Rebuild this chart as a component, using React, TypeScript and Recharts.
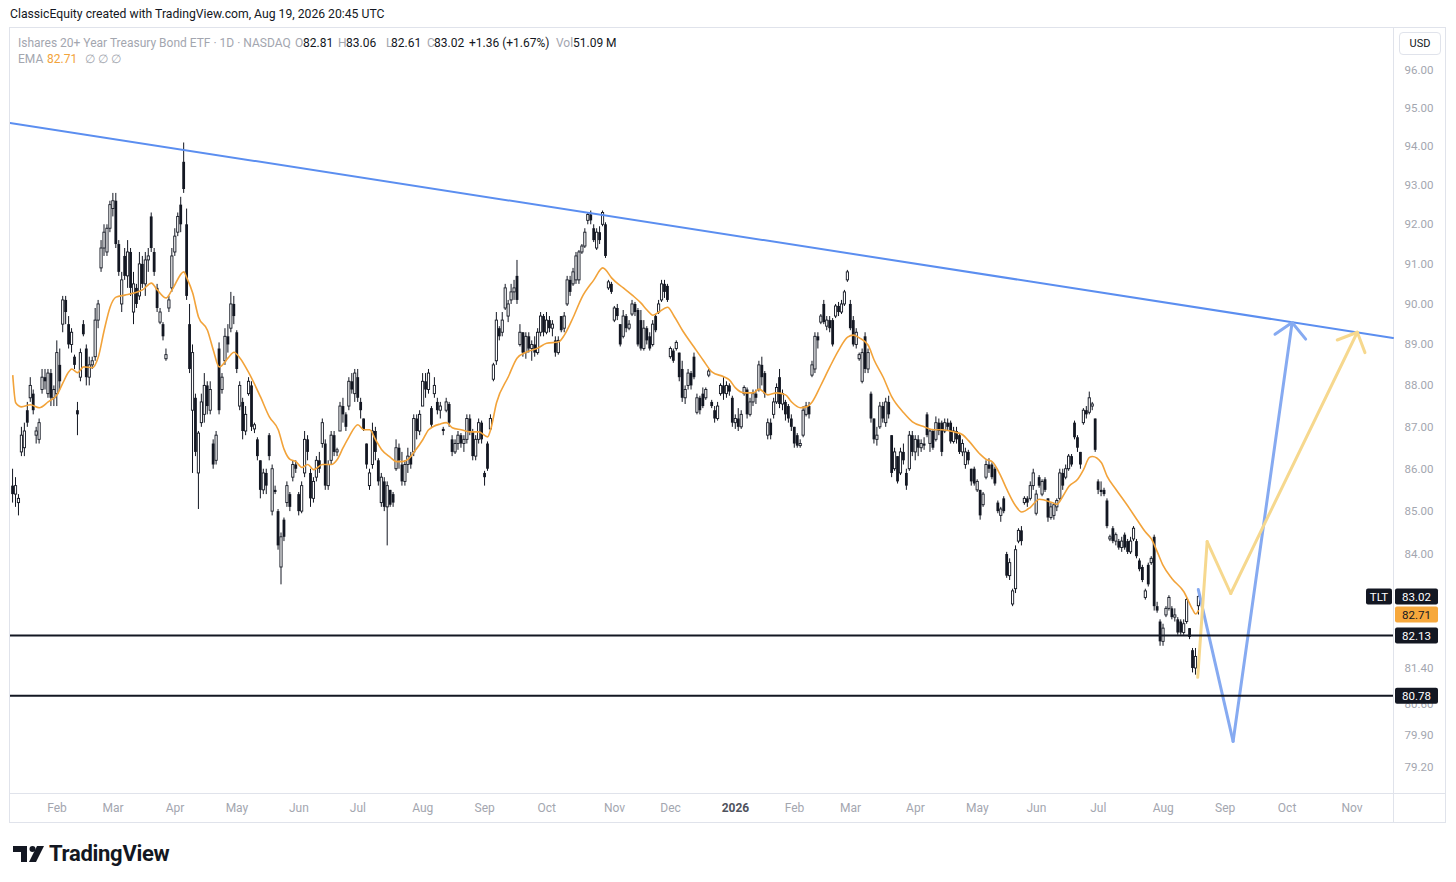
import { ComposedChart, Bar, Line, XAxis, YAxis, ReferenceLine } from 'recharts'

const FONT = "Roboto, 'Liberation Sans', Arial, sans-serif"
const GRAY = '#a3a6af'
const INK = '#131722'
const EMA_COLOR = '#f2a33a'

// first candle on the left edge, counted in trading days from Feb 3 2025
const FIRST_BAR = -15

// daily candles [open, high, low, close]
const ohlc: [number, number, number, number][] = [
  [85.6, 86.0, 85.2, 85.4], [85.4, 85.8, 85.1, 85.6], [85.2, 85.4, 84.9, 85.3], [86.4, 87.0, 86.3, 86.8], [86.5, 87.1, 86.3, 86.9],
  [87.4, 87.6, 87.0, 87.1], [87.7, 88.2, 87.6, 88.0], [87.8, 87.9, 87.3, 87.4], [86.8, 87.0, 86.6, 86.9], [86.7, 87.2, 86.6, 87.1],
  [87.9, 88.4, 87.8, 88.2], [88.2, 88.4, 87.9, 88.1], [87.8, 88.4, 87.7, 88.3], [88.3, 88.4, 87.5, 87.7], [87.7, 88.0, 87.5, 87.9],
  // Feb 2025
  [87.8, 89.1, 87.5, 88.8], [88.5, 88.9, 87.9, 88.1], [89.5, 90.2, 89.3, 90.1], [90.1, 90.2, 89.5, 89.8], [89.5, 89.7, 88.9, 89.0],
  [89.0, 89.4, 88.8, 89.3], [88.7, 88.75, 88.4, 88.5], [87.4, 87.6, 86.8, 87.3], [88.2, 88.9, 88.1, 88.8], [89.5, 89.6, 89.2, 89.25],
  [88.9, 89.0, 88.0, 88.2], [88.2, 88.7, 88.0, 88.5], [88.5, 88.7, 88.4, 88.6], [88.7, 89.9, 88.6, 89.6], [89.6, 90.1, 89.4, 90.0],
  [90.9, 91.6, 90.8, 91.4], [91.4, 92.0, 91.2, 91.8], [91.3, 92.0, 91.2, 91.9], [91.9, 92.6, 91.8, 92.5], [92.4, 92.8, 92.2, 92.6],
  [92.6, 92.8, 91.4, 91.5], [91.5, 91.6, 90.7, 90.8], [90.0, 90.8, 89.8, 90.6], [91.2, 91.4, 90.6, 90.7], [90.7, 91.6, 90.4, 91.3],
  [91.3, 91.4, 90.2, 90.4], [89.8, 90.8, 89.5, 90.5], [90.4, 90.5, 89.9, 90.0], [90.2, 91.3, 90.1, 91.0], [91.0, 91.2, 90.4, 90.5],
  [90.5, 91.3, 90.2, 91.1], [91.1, 91.4, 90.8, 91.2], [92.2, 92.3, 91.3, 91.4], [91.3, 91.4, 90.7, 90.8], [90.4, 90.5, 89.8, 89.9],
  [89.55, 89.9, 89.5, 89.8], [89.5, 89.55, 89.1, 89.2], [88.65, 88.9, 88.6, 88.75], [89.9, 90.2, 89.8, 90.1], [90.4, 91.4, 90.3, 91.2],
  // Apr 2025
  [91.3, 91.9, 91.2, 91.7], [91.8, 92.3, 91.7, 92.2], [92.5, 92.7, 91.8, 92.0], [93.6, 94.1, 92.8, 92.9], [92.0, 92.4, 90.1, 90.2],
  [89.5, 90.0, 88.3, 88.4], [87.4, 89.0, 85.9, 88.8], [87.7, 87.8, 86.3, 86.4], [85.9, 86.9, 85.05, 86.85], [87.1, 87.8, 87.0, 87.6],
  [87.3, 88.3, 87.1, 88.0], [88.0, 88.1, 87.3, 87.5], [87.4, 88.1, 87.3, 87.9], [86.6, 86.7, 86.0, 86.1], [86.2, 86.9, 86.1, 86.8],
  [88.9, 89.05, 87.3, 87.4], [87.9, 88.3, 87.8, 88.2], [88.6, 89.4, 88.5, 89.2], [89.2, 89.5, 88.8, 89.0], [89.4, 90.3, 89.3, 90.0],
  [90.0, 90.2, 89.5, 89.7],
  // May 2025
  [89.3, 89.35, 88.3, 88.4], [87.5, 88.1, 87.4, 88.0], [87.6, 87.7, 86.7, 86.9], [86.9, 87.5, 86.8, 87.3], [87.8, 88.2, 87.75, 88.1],
  [88.0, 88.1, 86.9, 87.0], [86.95, 87.1, 86.85, 87.05], [86.7, 86.75, 86.2, 86.3], [86.2, 86.2, 85.3, 85.5], [85.5, 86.0, 85.4, 85.9],
  [85.9, 86.0, 85.4, 85.6], [86.8, 86.85, 86.2, 86.3], [85.0, 86.1, 84.9, 86.0], [85.5, 85.6, 85.4, 85.45], [85.0, 85.05, 84.1, 84.2],
  [83.7, 84.5, 83.3, 84.4], [84.8, 84.85, 84.3, 84.4], [85.2, 85.7, 85.1, 85.6], [85.4, 85.45, 85.0, 85.1], [85.8, 86.2, 85.7, 86.1],
  [86.1, 86.2, 85.9, 86.0],
  // Jun 2025
  [85.4, 85.45, 84.9, 85.0], [85.0, 85.7, 84.95, 85.6], [85.9, 86.9, 85.8, 86.7], [86.7, 86.8, 86.2, 86.4], [85.9, 86.0, 85.1, 85.3],
  [85.3, 85.8, 85.2, 85.7], [85.8, 86.3, 85.7, 86.2], [86.2, 86.4, 85.9, 86.0], [86.6, 87.2, 86.5, 87.1], [86.6, 86.7, 85.5, 85.6],
  [85.6, 86.2, 85.5, 86.1], [86.2, 86.9, 86.1, 86.8], [86.8, 86.9, 86.3, 86.4], [86.4, 86.5, 86.3, 86.45], [86.9, 87.6, 86.9, 87.5],
  [87.5, 87.7, 87.1, 87.3], [87.3, 87.35, 86.9, 87.0], [87.5, 88.2, 87.4, 88.1], [88.1, 88.3, 87.8, 87.9], [87.8, 88.4, 87.6, 88.3],
  // Jul 2025
  [88.2, 88.4, 87.6, 87.7], [87.6, 87.7, 87.2, 87.4], [87.2, 87.2, 86.9, 86.95], [86.6, 86.6, 86.0, 86.1], [85.6, 86.0, 85.5, 85.9],
  [86.1, 87.1, 86.0, 86.9], [86.9, 87.0, 86.2, 86.4], [86.2, 86.25, 85.6, 85.7], [85.2, 85.9, 85.1, 85.8], [85.7, 85.8, 85.0, 85.1],
  [85.1, 85.7, 84.2, 85.6], [85.5, 85.5, 85.1, 85.15], [85.4, 85.45, 85.1, 85.2], [86.0, 86.7, 85.95, 86.5], [86.5, 86.6, 86.0, 86.2],
  [86.1, 86.4, 85.6, 85.7], [85.7, 86.2, 85.6, 86.1], [86.1, 86.5, 85.9, 86.3], [86.3, 86.4, 86.0, 86.1], [86.4, 87.3, 86.3, 87.2],
  [87.2, 87.3, 86.7, 86.9], [86.9, 87.4, 86.8, 87.3],
  // Aug 2025
  [87.5, 88.3, 87.5, 88.1], [88.1, 88.3, 87.7, 87.9], [87.9, 88.4, 87.8, 88.3], [87.45, 87.5, 87.0, 87.05], [87.8, 88.2, 87.7, 88.0],
  [87.6, 87.7, 87.3, 87.4], [87.4, 87.6, 87.2, 87.5], [86.95, 87.0, 86.8, 86.9], [87.4, 87.7, 87.35, 87.6], [87.55, 87.6, 87.0, 87.1],
  [86.7, 86.8, 86.3, 86.4], [86.4, 86.7, 86.35, 86.6], [86.6, 86.9, 86.45, 86.8], [86.8, 86.85, 86.5, 86.6], [86.6, 86.8, 86.4, 86.7],
  [86.7, 87.3, 86.6, 87.2], [87.2, 87.3, 86.8, 86.9], [86.9, 86.95, 86.2, 86.3], [86.3, 86.8, 86.2, 86.7], [86.7, 87.2, 86.6, 87.1],
  [87.1, 87.15, 86.6, 86.7],
  // Sep 2025
  [85.9, 85.95, 85.6, 85.8], [86.6, 86.65, 85.95, 86.0], [86.95, 87.3, 86.9, 87.2], [88.15, 88.55, 88.1, 88.5], [88.6, 89.8, 88.5, 89.6],
  [89.4, 89.45, 89.1, 89.2], [89.3, 89.8, 89.2, 89.6], [89.9, 90.5, 89.85, 90.4], [89.7, 90.1, 89.55, 90.0], [90.1, 90.5, 90.0, 90.3],
  [90.3, 90.6, 90.1, 90.4], [90.7, 91.1, 90.0, 90.1], [89.0, 89.5, 88.95, 89.3], [89.3, 89.3, 88.7, 88.8], [88.8, 89.3, 88.65, 89.2],
  [89.2, 89.3, 88.8, 88.9], [88.9, 89.1, 88.6, 89.0], [89.0, 89.2, 88.7, 88.8], [88.8, 89.4, 88.75, 89.3], [89.3, 89.8, 89.2, 89.7],
  [89.7, 89.75, 89.2, 89.3],
  // Oct 2025
  [89.3, 89.8, 89.25, 89.6], [89.6, 89.7, 89.3, 89.4], [89.4, 89.6, 89.2, 89.5], [89.1, 89.2, 88.7, 88.8], [88.8, 89.2, 88.75, 89.1],
  [89.7, 89.7, 89.3, 89.35], [89.4, 89.8, 89.3, 89.7], [90.0, 90.7, 89.95, 90.6], [90.6, 90.7, 90.2, 90.3], [90.5, 90.9, 90.45, 90.8],
  [90.6, 91.3, 90.5, 91.2], [90.6, 91.35, 90.5, 91.3], [91.3, 91.5, 91.25, 91.45], [91.45, 91.9, 91.4, 91.8], [92.1, 92.3, 92.0, 92.25],
  [92.25, 92.35, 92.0, 92.1], [91.9, 92.0, 91.55, 91.6], [91.4, 91.9, 91.35, 91.8], [91.8, 91.95, 91.5, 91.6], [92.0, 92.35, 91.95, 92.3],
  [92.0, 92.05, 91.15, 91.2], [90.4, 90.6, 90.35, 90.55], [90.5, 90.55, 90.25, 90.3],
  // Nov 2025
  [89.6, 89.95, 89.55, 89.9], [89.9, 90.0, 89.6, 89.7], [89.5, 89.5, 88.95, 89.0], [89.2, 89.85, 89.15, 89.7], [89.7, 89.75, 89.3, 89.4],
  [89.4, 89.6, 89.35, 89.5], [89.75, 90.1, 89.7, 90.0], [90.0, 90.05, 89.7, 89.8], [89.85, 89.9, 88.95, 89.0], [89.6, 89.85, 88.85, 88.9],
  [88.9, 89.6, 88.85, 89.4], [89.4, 89.45, 89.0, 89.1], [89.2, 89.3, 88.85, 88.9], [89.0, 89.6, 88.95, 89.5], [89.7, 89.75, 89.3, 89.35],
  [89.8, 90.1, 89.75, 90.0], [90.1, 90.6, 90.05, 90.5], [90.5, 90.6, 90.15, 90.3], [90.45, 90.5, 90.05, 90.1],
  // Dec 2025
  [88.7, 88.95, 88.65, 88.9], [88.85, 88.9, 88.55, 88.6], [88.9, 89.1, 88.85, 89.05], [88.8, 88.8, 88.1, 88.2], [88.4, 88.6, 87.6, 87.7],
  [87.7, 88.0, 87.55, 87.9], [88.0, 88.4, 87.9, 88.3], [88.3, 88.35, 87.9, 88.0], [88.7, 88.8, 88.15, 88.2], [87.35, 87.8, 87.3, 87.7],
  [87.7, 87.75, 87.3, 87.4], [87.8, 87.95, 87.45, 87.5], [87.7, 87.95, 87.65, 87.9], [88.25, 88.4, 88.2, 88.35], [87.6, 87.65, 87.45, 87.5],
  [87.4, 87.5, 87.1, 87.2], [87.2, 87.6, 87.15, 87.5], [87.8, 88.05, 87.75, 88.0], [88.0, 88.2, 87.65, 87.8], [87.8, 88.1, 87.7, 88.0],
  [88.0, 88.05, 87.75, 87.85], [87.7, 87.75, 87.0, 87.1],
  // Jan 2026
  [87.1, 87.3, 86.95, 87.2], [87.2, 87.45, 86.9, 87.0], [87.0, 87.4, 86.95, 87.3], [87.8, 88.0, 87.75, 87.95], [87.9, 87.95, 87.2, 87.3],
  [87.3, 87.7, 87.25, 87.6], [87.6, 87.9, 87.5, 87.8], [87.8, 87.9, 87.55, 87.7], [87.9, 88.6, 87.85, 88.5], [88.5, 88.7, 88.0, 88.2],
  [88.3, 88.35, 87.7, 87.8], [86.8, 87.2, 86.7, 87.1], [87.1, 87.2, 86.7, 86.8], [87.3, 87.7, 87.2, 87.6], [87.6, 88.05, 87.55, 87.95],
  [88.2, 88.4, 87.45, 87.55], [87.55, 87.9, 87.4, 87.8], [87.6, 87.65, 87.15, 87.3], [87.5, 87.55, 87.1, 87.2], [87.2, 87.3, 86.9, 87.0],
  // Feb 2026
  [87.0, 87.0, 86.5, 86.6], [86.8, 86.85, 86.5, 86.55], [86.55, 86.7, 86.5, 86.6], [86.8, 87.5, 86.75, 87.4], [87.3, 87.6, 87.25, 87.5],
  [87.5, 87.6, 87.2, 87.3], [88.25, 88.6, 88.2, 88.5], [88.4, 89.3, 88.3, 89.2], [89.2, 89.3, 88.9, 89.1], [89.55, 89.75, 89.5, 89.7],
  [90.0, 90.1, 89.5, 89.55], [89.45, 89.7, 89.35, 89.6], [89.6, 89.7, 89.3, 89.4], [89.6, 89.65, 88.95, 89.0], [89.7, 90.0, 89.65, 89.95],
  [89.95, 90.05, 89.7, 89.8], [89.8, 90.1, 89.75, 90.0], [90.0, 90.35, 89.95, 90.3], [90.6, 90.85, 90.55, 90.8],
  // Mar 2026
  [90.0, 90.1, 89.35, 89.4], [89.6, 89.7, 88.95, 89.0], [89.0, 89.4, 88.9, 89.3], [88.65, 88.8, 88.6, 88.75], [88.1, 88.9, 88.05, 88.8],
  [89.2, 89.3, 88.3, 88.4], [88.4, 88.9, 88.3, 88.8], [87.8, 87.85, 87.1, 87.2], [87.2, 87.2, 86.6, 86.7], [86.7, 87.0, 86.55, 86.8],
  [87.0, 87.6, 86.95, 87.5], [87.5, 87.6, 87.1, 87.2], [87.1, 87.7, 87.0, 87.6], [87.6, 87.75, 87.2, 87.3], [86.8, 86.8, 85.8, 85.9],
  [86.0, 86.5, 85.95, 86.4], [86.3, 86.3, 85.65, 85.7], [85.9, 86.5, 85.85, 86.4], [86.4, 86.6, 86.1, 86.2], [85.9, 86.0, 85.5, 85.6],
  [86.0, 86.9, 85.95, 86.8], [86.8, 86.9, 86.3, 86.4],
  // Apr 2026
  [86.4, 86.8, 86.2, 86.7], [86.7, 86.8, 86.3, 86.5], [86.5, 86.7, 86.4, 86.6], [86.6, 86.75, 86.45, 86.55], [87.3, 87.35, 86.75, 86.8],
  [86.6, 86.95, 86.4, 86.9], [86.9, 86.95, 86.45, 86.5], [86.7, 87.25, 86.65, 87.1], [87.1, 87.2, 86.8, 86.9], [87.1, 87.15, 86.3, 86.4],
  [86.9, 87.2, 86.85, 87.1], [87.1, 87.2, 86.9, 87.0], [87.1, 87.15, 86.6, 86.65], [86.65, 87.0, 86.6, 86.9], [86.9, 87.0, 86.6, 86.7],
  [86.8, 86.85, 86.35, 86.4], [86.4, 86.7, 86.3, 86.6], [86.1, 86.5, 86.0, 86.4], [86.4, 86.45, 86.1, 86.2], [86.0, 86.0, 85.6, 85.7],
  [86.0, 86.05, 85.6, 85.65],
  // May 2026
  [85.5, 85.75, 85.45, 85.7], [85.5, 85.5, 84.8, 84.9], [85.15, 85.45, 85.1, 85.4], [85.8, 86.2, 85.75, 86.1], [86.1, 86.25, 85.9, 86.0],
  [86.1, 86.15, 85.75, 85.8], [86.0, 86.05, 85.6, 85.65], [85.2, 85.25, 84.95, 85.0], [84.9, 85.1, 84.75, 85.05], [85.3, 85.35, 84.95, 85.0],
  [84.0, 84.05, 83.45, 83.5], [83.5, 83.9, 83.4, 83.8], [82.85, 83.2, 82.8, 83.15], [83.2, 84.2, 83.1, 84.1], [84.3, 84.6, 84.25, 84.55],
  [84.55, 84.65, 84.2, 84.3], [85.2, 85.35, 85.15, 85.3], [85.3, 85.35, 85.1, 85.2], [85.3, 85.7, 85.25, 85.6], [85.6, 86.0, 85.5, 85.9],
  // Jun 2026
  [84.95, 85.5, 84.9, 85.4], [85.8, 85.85, 85.55, 85.6], [85.4, 85.75, 85.35, 85.7], [85.75, 85.8, 85.45, 85.5], [85.3, 85.3, 84.75, 84.85],
  [84.85, 85.2, 84.8, 85.1], [84.9, 85.2, 84.8, 85.15], [85.1, 85.3, 85.0, 85.25], [85.3, 86.0, 85.25, 85.9], [85.9, 86.0, 85.5, 85.6],
  [85.8, 86.1, 85.75, 86.0], [86.0, 86.35, 85.95, 86.3], [86.3, 86.35, 86.05, 86.1], [87.1, 87.15, 86.7, 86.75], [86.75, 86.8, 86.4, 86.5],
  [86.4, 86.4, 86.0, 86.1], [87.1, 87.45, 87.05, 87.4], [87.4, 87.5, 87.2, 87.3], [87.35, 87.85, 87.3, 87.7], [87.5, 87.6, 87.4, 87.55],
  [87.2, 87.2, 86.4, 86.45],
  // Jul 2026
  [85.7, 85.75, 85.4, 85.5], [85.5, 85.7, 85.35, 85.45], [85.5, 85.55, 85.35, 85.4], [85.25, 85.3, 84.6, 84.65], [84.35, 84.45, 84.3, 84.4],
  [84.6, 84.65, 84.25, 84.3], [84.3, 84.5, 84.2, 84.45], [84.3, 84.35, 84.1, 84.15], [84.15, 84.4, 84.05, 84.3], [84.45, 84.5, 84.1, 84.15],
  [84.3, 84.35, 84.0, 84.05], [84.05, 84.4, 84.0, 84.3], [84.35, 84.65, 84.3, 84.6], [84.3, 84.35, 83.9, 83.95], [83.85, 83.9, 83.6, 83.65],
  [83.7, 83.75, 83.35, 83.4], [83.0, 83.2, 82.95, 83.15], [83.75, 83.8, 83.25, 83.3], [83.8, 83.95, 83.75, 83.9], [84.4, 84.45, 82.7, 82.8],
  [82.8, 82.9, 82.65, 82.7], [82.45, 82.5, 81.9, 82.0],
  // Aug 2026
  [82.0, 82.4, 81.9, 82.3], [82.6, 82.8, 82.55, 82.75], [82.75, 83.05, 82.7, 83.0], [82.75, 82.8, 82.5, 82.55], [82.55, 82.75, 82.45, 82.6],
  [82.5, 82.55, 82.15, 82.2], [82.45, 82.5, 82.15, 82.2], [82.2, 82.5, 82.15, 82.4], [82.45, 83.0, 82.4, 82.95], [82.3, 82.3, 82.05, 82.1],
  [81.8, 81.85, 81.3, 81.4], [81.4, 81.85, 81.25, 81.66], [82.81, 83.06, 82.61, 83.02],
]

// EMA read at sample bars [bar, value]
const emaPoints: [number, number][] = [
  [-15, 88.25], [-14, 87.58], [-12, 87.48], [-9, 87.53], [-6, 87.46], [-3, 87.6], [0, 87.77], [2, 88.06], [4, 88.33], [5, 88.4],
  [7, 88.31], [9, 88.45], [12, 88.43], [14, 88.69], [16, 89.35], [18, 89.92], [20, 90.17], [23, 90.22], [26, 90.27], [29, 90.35],
  [32, 90.52], [34, 90.35], [37, 90.15], [39, 90.35], [43, 90.8], [44, 90.65], [46, 90.27], [48, 89.67], [51, 89.35], [53, 88.86],
  [55, 88.45], [58, 88.67], [60, 88.81], [62, 88.67], [65, 88.31], [69, 87.72], [72, 87.24], [75, 86.93], [77, 86.46], [79, 86.22],
  [81, 86.17], [83, 86.03], [85, 86.1], [87, 85.98], [90, 86.1], [93, 86.1], [95, 86.22], [97, 86.5], [99, 86.76], [102, 87.05],
  [104, 86.93], [106, 86.93], [108, 86.69], [110, 86.46], [113, 86.27], [115, 86.17], [117, 86.17], [119, 86.22], [121, 86.39], [124, 86.69],
  [126, 86.93], [130, 87.07], [132, 87.1], [134, 86.98], [137, 86.93], [140, 86.88], [143, 86.88], [146, 86.76], [147, 86.93], [149, 87.58],
  [153, 88.21], [156, 88.67], [159, 88.81], [163, 88.91], [166, 89.03], [170, 89.06], [172, 89.23], [175, 89.67], [178, 90.17], [182, 90.6],
  [185, 90.9], [186, 90.85], [188, 90.65], [192, 90.4], [195, 90.22], [198, 90.02], [200, 89.85], [202, 89.72], [204, 89.8], [207, 89.92],
  [209, 89.72], [212, 89.35], [216, 88.93], [219, 88.62], [222, 88.33], [226, 88.21], [228, 88.13], [230, 87.94], [233, 87.82], [236, 87.82],
  [238, 87.91], [241, 87.77], [244, 87.82], [247, 87.77], [249, 87.6], [252, 87.46], [254, 87.48], [256, 87.6], [259, 88.01], [262, 88.45],
  [265, 88.86], [268, 89.18], [270, 89.23], [272, 89.16], [275, 88.98], [277, 88.62], [280, 88.21], [283, 87.72], [287, 87.34], [290, 87.12],
  [294, 87.0], [297, 86.93], [300, 86.93], [304, 86.88], [307, 86.81], [309, 86.67], [313, 86.34], [315, 86.22], [317, 86.17], [320, 85.82],
  [322, 85.51], [325, 85.12], [327, 84.98], [330, 85.09], [333, 85.28], [337, 85.21], [339, 85.16], [341, 85.35], [343, 85.58], [346, 85.75],
  [348, 85.98], [350, 86.27], [351, 86.29], [354, 86.15], [356, 85.82], [359, 85.51], [363, 85.12], [366, 84.81], [369, 84.51], [371, 84.35],
  [373, 84.05], [375, 83.73], [378, 83.43], [382, 83.13], [385, 82.72], [386, 82.62], [387, 82.71],
]

const monthTicks = [0, 19, 40, 61, 82, 102, 124, 145, 166, 189, 208, 230, 250, 269, 291, 312, 332, 353, 375, 396, 417, 439]
const monthLabels = ['Feb', 'Mar', 'Apr', 'May', 'Jun', 'Jul', 'Aug', 'Sep', 'Oct', 'Nov', 'Dec', '2026',
  'Feb', 'Mar', 'Apr', 'May', 'Jun', 'Jul', 'Aug', 'Sep', 'Oct', 'Nov']
// 83.00 and 82.20 sit under the price tags, 80.60 peeks out below the 80.78 tag
const priceTicks = [96, 95, 94, 93, 92, 91, 90, 89, 88, 87, 86, 85, 84, 83, 82.2, 81.4, 80.6, 79.9, 79.2]

const X_DOMAIN: [number, number] = [-15.93, 452.9]
const Y_DOMAIN: [number, number] = [78.64, 97.12]

const lastClose = 83.02
const lastEma = 82.71
const levels = [82.13, 80.78]

// drawings: [bar, price]
const trendLine: [number, number][] = [[-15.93, 94.61], [452.9, 89.16]]
const blueArrow: [number, number][] = [[386.9, 83.18], [398.7, 79.77], [418.7, 89.54]]
const blueHead: [number, number][] = [[412.9, 89.25], [418.7, 89.54], [423.3, 89.13]]
const yellowArrow: [number, number][] = [[386.7, 81.19], [389.9, 84.29], [397.9, 83.09], [440.8, 89.3]]
const yellowHead: [number, number][] = [[434.0, 89.11], [440.8, 89.3], [443.4, 88.8]]

const emaByBar = new Map(emaPoints)
const rows = ohlc.map(([o, h, l, c], k) => {
  const i = FIRST_BAR + k
  return { i, o, h, l, c, range: [l, h], ema: emaByBar.get(i) ?? null }
})

const CHART_W = 1435
const CHART_H = 794

function Candle(props: any) {
  const { x, y, width, height, payload } = props
  if (!payload || height == null) return null
  const { o, h, l, c } = payload
  const cx = x + width / 2
  const lnH = Math.log(h)
  const span = lnH - Math.log(l) || 1
  const toY = (v: number) => y + ((lnH - Math.log(v)) / span) * height
  const yo = toY(o)
  const yc = toY(c)
  const up = c >= o
  const top = Math.min(yo, yc)
  const bh = Math.max(Math.abs(yc - yo), 1)
  return (
    <g>
      <line x1={cx} x2={cx} y1={y} y2={y + height} stroke={INK} strokeWidth={1} />
      {up ? (
        <rect x={cx - 1.1} y={top} width={2.2} height={bh} fill="#fff" stroke={INK} strokeWidth={0.9} />
      ) : (
        <rect x={cx - 1.4} y={top} width={2.8} height={bh} fill={INK} />
      )}
    </g>
  )
}

function MonthTick({ x, payload }: any) {
  const label = monthLabels[monthTicks.indexOf(payload.value)]
  const isYear = label === '2026'
  return (
    <text x={x} y={784} textAnchor="middle" fontSize={12} fontFamily={FONT}
      fill={isYear ? '#50535e' : GRAY} fontWeight={isYear ? 700 : 400}>
      {label}
    </text>
  )
}

function PriceTick({ y, payload }: any) {
  return (
    <text x={1409} y={y + 4} textAnchor="middle" fontSize={11.5} fontFamily={FONT} fill={GRAY}>
      {payload.value.toFixed(2)}
    </text>
  )
}

function priceTag(text: string, bg: string, fg: string, dy = 0, ticker?: string) {
  return (p: any) => {
    const vb = p.viewBox
    if (!vb) return null
    const right = vb.x + vb.width
    const cy = vb.y + dy
    return (
      <g>
        {ticker && (
          <g>
            <rect x={right - 27} y={cy - 8} width={26} height={16} rx={2} fill={INK} />
            <text x={right - 14} y={cy + 4} textAnchor="middle" fontSize={11.5} fontFamily={FONT} fill="#fff">{ticker}</text>
          </g>
        )}
        <rect x={right + 2} y={cy - 8} width={43} height={16} rx={2} fill={bg} />
        <text x={right + 23.5} y={cy + 4} textAnchor="middle" fontSize={11.5} fontFamily={FONT} fill={fg}>{text}</text>
      </g>
    )
  }
}

function segments(points: [number, number][], color: string, width: number, prefix: string) {
  return points.slice(1).map((pt, k) => (
    <ReferenceLine
      key={`${prefix}-${k}`}
      segment={[{ x: points[k][0], y: points[k][1] }, { x: pt[0], y: pt[1] }]}
      stroke={color}
      strokeWidth={width}
      strokeLinecap="round"
      ifOverflow="visible"
    />
  ))
}

// same axes for both layers; the drawing layer hides its ticks
function axes(showTicks: boolean) {
  return [
    <XAxis
      key="x"
      dataKey="i"
      type="number"
      domain={X_DOMAIN}
      allowDataOverflow
      ticks={monthTicks}
      tick={showTicks ? <MonthTick /> : false}
      axisLine={false}
      tickLine={false}
      height={29}
      interval={0}
    />,
    <YAxis
      key="y"
      orientation="right"
      scale="log"
      domain={Y_DOMAIN}
      allowDataOverflow
      ticks={priceTicks}
      tick={showTicks ? <PriceTick /> : false}
      axisLine={false}
      tickLine={false}
      width={52}
      interval={0}
    />,
  ]
}

const legendParts = [
  { left: 18, text: 'Ishares 20+ Year Treasury Bond ETF · 1D · NASDAQ', color: GRAY },
  { left: 295, text: 'O', color: GRAY }, { left: 303, text: '82.81', color: INK },
  { left: 338, text: 'H', color: GRAY }, { left: 346, text: '83.06', color: INK },
  { left: 386, text: 'L', color: GRAY }, { left: 391, text: '82.61', color: INK },
  { left: 427, text: 'C', color: GRAY }, { left: 434, text: '83.02', color: INK },
  { left: 469, text: '+1.36 (+1.67%)', color: INK },
  { left: 556, text: 'Vol', color: GRAY }, { left: 573, text: '51.09 M', color: INK },
]
const emaLegend = [
  { left: 18, text: 'EMA', color: GRAY },
  { left: 47, text: '82.71', color: EMA_COLOR },
  { left: 85, text: '∅  ∅  ∅', color: GRAY },
]

export default function App() {
  return (
    <div style={{ position: 'absolute', left: 0, top: 0, width: 1456, height: 882, background: '#fff', fontFamily: FONT, overflow: 'hidden' }}>
      <div style={{ position: 'absolute', left: 10, top: 7, fontSize: 12.2, color: INK, whiteSpace: 'nowrap' }}>
        ClassicEquity created with TradingView.com, Aug 19, 2026 20:45 UTC
      </div>

      <div style={{ position: 'absolute', left: 9, top: 27, width: 1437, height: 796, border: '1px solid #e0e3eb', boxSizing: 'border-box' }} />
      <div style={{ position: 'absolute', left: 1393, top: 28, width: 1, height: 794, background: '#e0e3eb' }} />
      <div style={{ position: 'absolute', left: 10, top: 793, width: 1435, height: 1, background: '#e0e3eb' }} />

      {/* price layer: candles, EMA and the axis labels */}
      <div style={{ position: 'absolute', left: 10, top: 28 }}>
        <ComposedChart width={CHART_W} height={CHART_H} data={rows} margin={{ top: 0, right: 0, bottom: 0, left: 0 }}>
          {axes(true)}
          <Bar dataKey="range" shape={<Candle />} isAnimationActive={false} />
          <Line dataKey="ema" type="monotone" stroke={EMA_COLOR} strokeWidth={1.6} dot={false}
            activeDot={false} connectNulls isAnimationActive={false} />
        </ComposedChart>
      </div>

      {/* drawing layer on top: trend line, levels, projections and price tags */}
      <div style={{ position: 'absolute', left: 10, top: 28, pointerEvents: 'none' }}>
        <ComposedChart width={CHART_W} height={CHART_H} data={rows} margin={{ top: 0, right: 0, bottom: 0, left: 0 }}>
          {axes(false)}
          {segments(trendLine, '#5b8ef0', 2, 'trend')}
          {segments(blueArrow, '#86aaf1', 3, 'blue')}
          {segments(blueHead, '#86aaf1', 3, 'bluehead')}
          {segments(yellowArrow, '#f6d88e', 3, 'yellow')}
          {segments(yellowHead, '#f6d88e', 3, 'yellowhead')}
          {levels.map((v) => (
            <ReferenceLine key={v} y={v} stroke={INK} strokeWidth={2} ifOverflow="visible"
              label={priceTag(v.toFixed(2), INK, '#fff')} />
          ))}
          <ReferenceLine y={lastClose} stroke="none" ifOverflow="visible"
            label={priceTag(lastClose.toFixed(2), INK, '#fff', 0, 'TLT')} />
          <ReferenceLine y={lastEma} stroke="none" ifOverflow="visible"
            label={priceTag(lastEma.toFixed(2), '#f7a83c', INK, 4.5)} />
        </ComposedChart>
      </div>

      {legendParts.map((p, k) => (
        <div key={k} style={{ position: 'absolute', left: p.left, top: 36, fontSize: 12, color: p.color, whiteSpace: 'nowrap' }}>{p.text}</div>
      ))}
      {emaLegend.map((p, k) => (
        <div key={k} style={{ position: 'absolute', left: p.left, top: 52, fontSize: 12, color: p.color, whiteSpace: 'nowrap' }}>{p.text}</div>
      ))}

      <div style={{ position: 'absolute', left: 1399, top: 32, width: 42, height: 23, border: '1px solid #e0e3eb', borderRadius: 4,
        boxSizing: 'border-box', fontSize: 11, color: INK, display: 'flex', alignItems: 'center', justifyContent: 'center' }}>
        USD
      </div>

      <div style={{ position: 'absolute', left: 13, top: 841, display: 'flex', alignItems: 'center' }}>
        <svg width={32} height={18} viewBox="0 0 32 18">
          <rect x={0} y={1} width={14} height={6} fill={INK} />
          <rect x={8} y={1} width={6} height={16} fill={INK} />
          <circle cx={19.5} cy={4} r={3} fill={INK} />
          <polygon points="24,1 31,1 23,17 16,17" fill={INK} />
        </svg>
        <span style={{ marginLeft: 4, fontSize: 22, fontWeight: 700, color: INK, letterSpacing: -0.3 }}>TradingView</span>
      </div>
    </div>
  )
}
